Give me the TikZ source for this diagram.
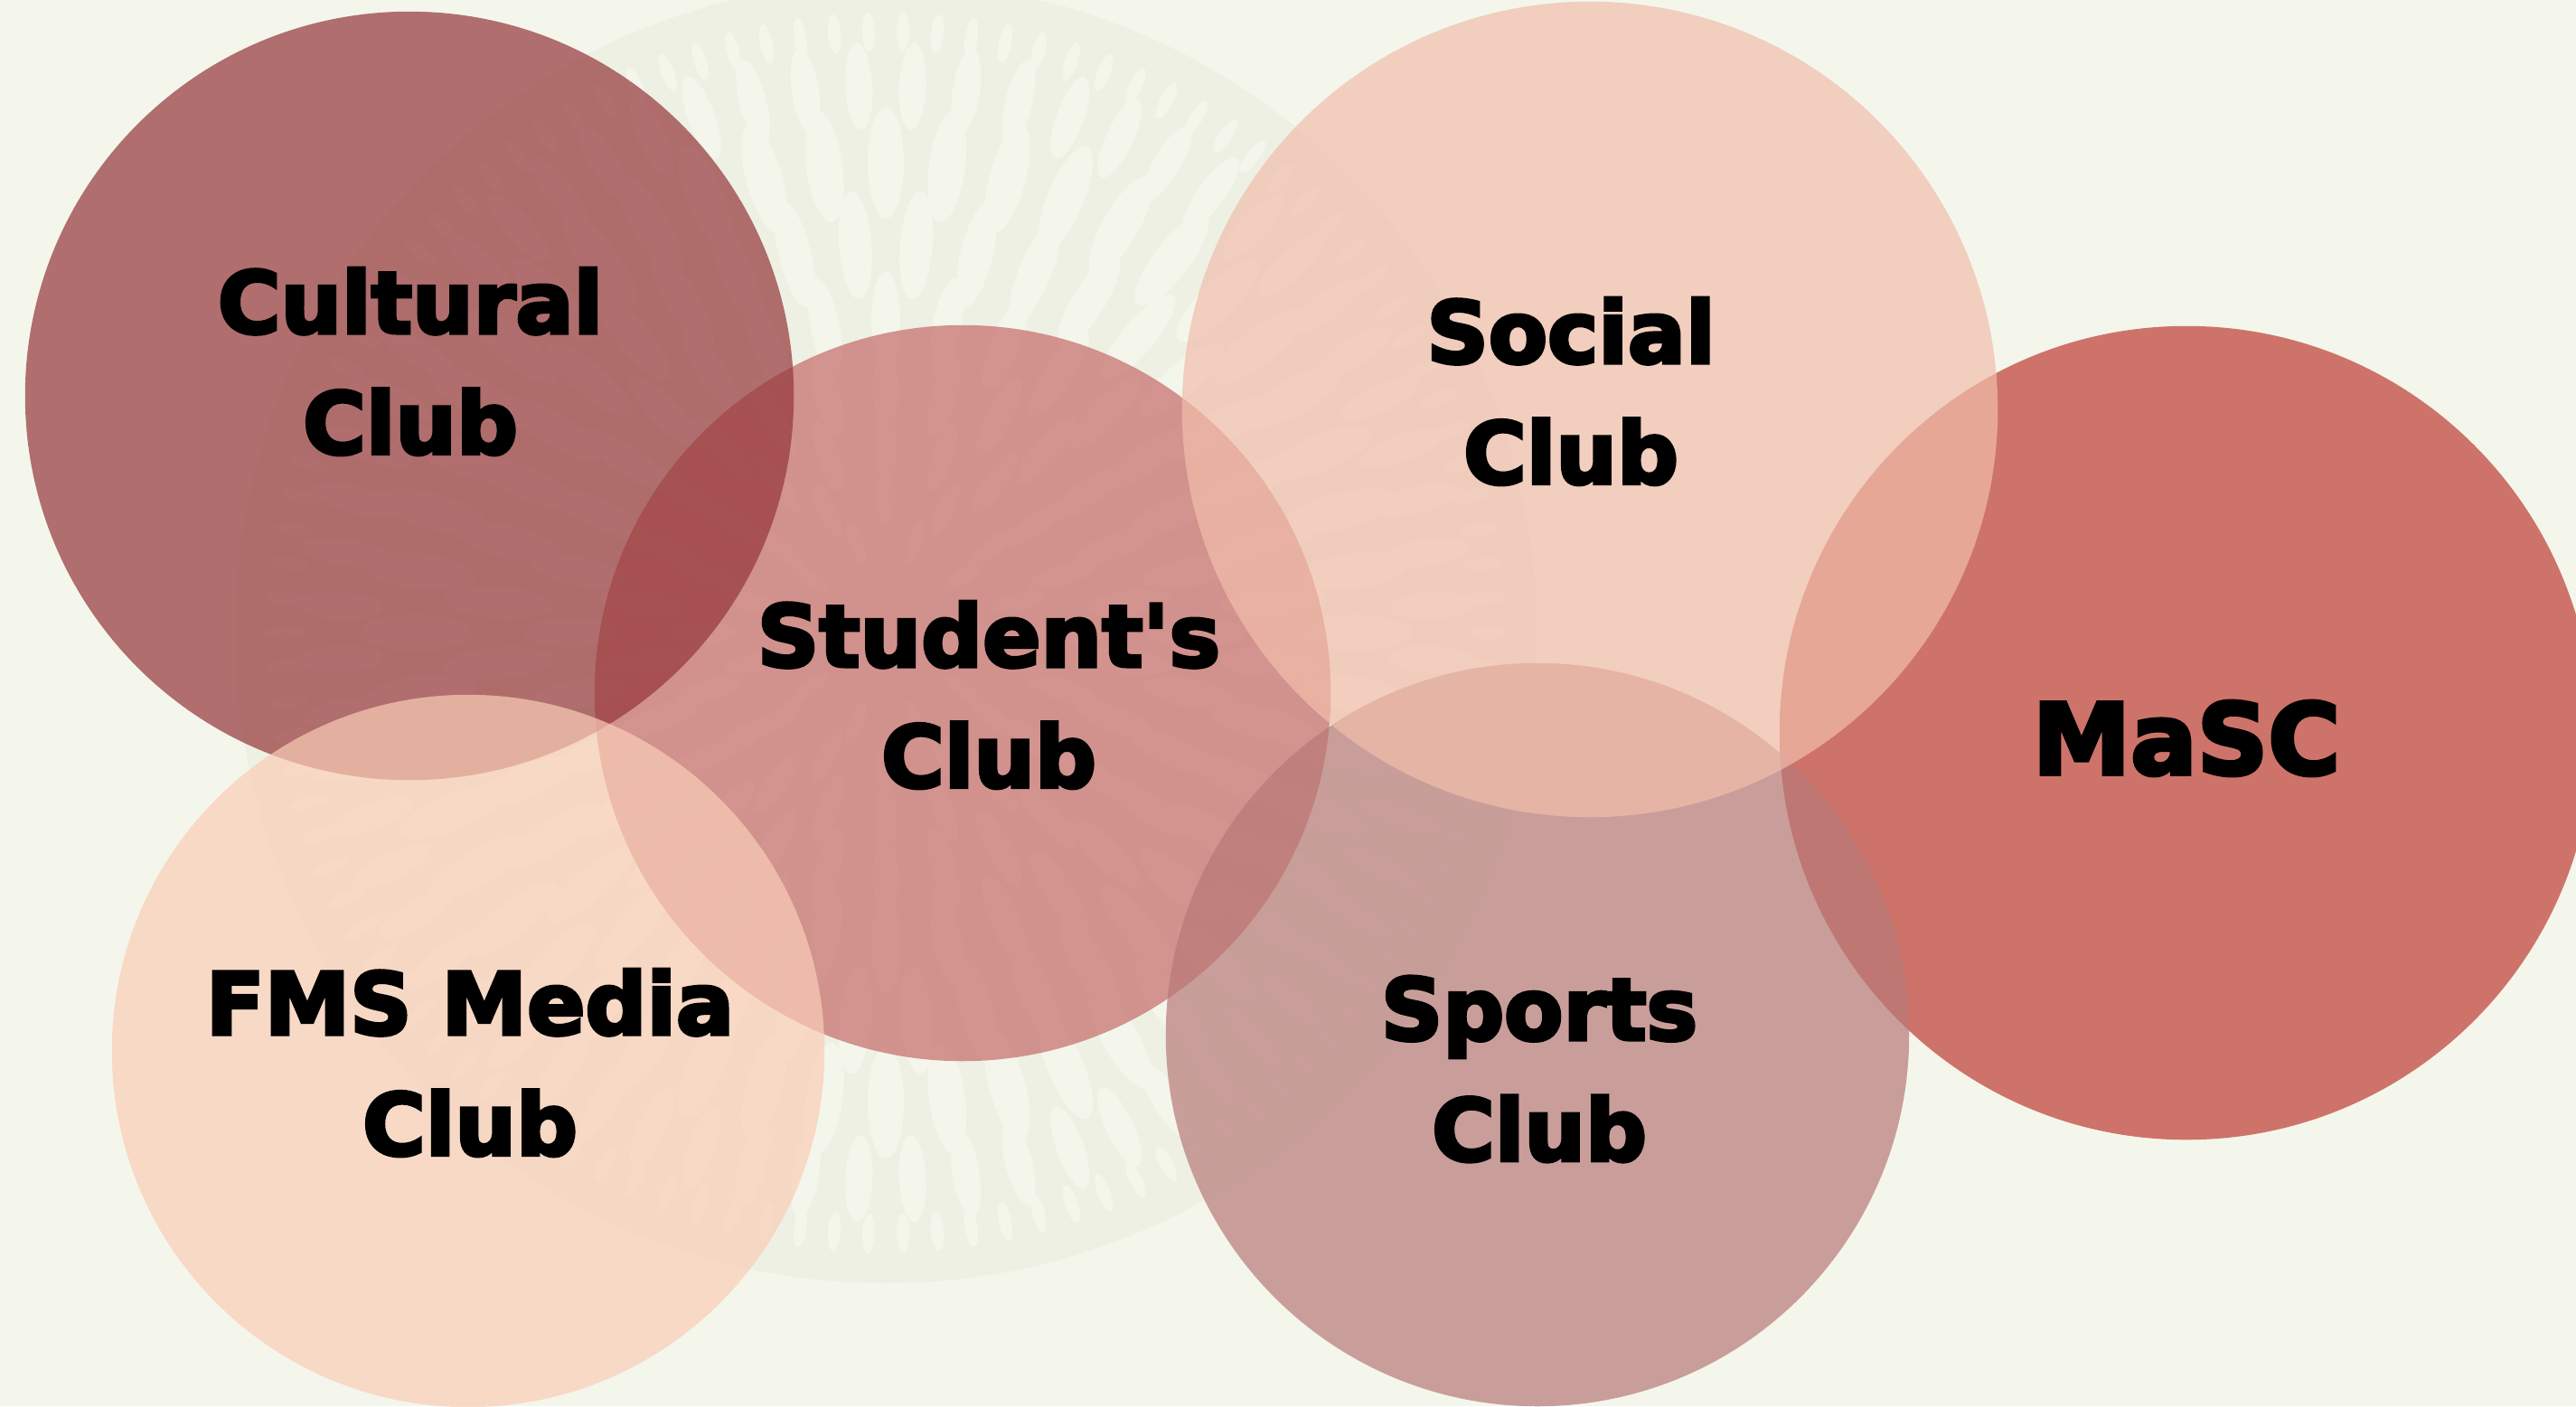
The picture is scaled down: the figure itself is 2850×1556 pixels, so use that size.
\documentclass[tikz,border=0pt]{standalone}
\usepackage{fontspec}
\setmainfont{DejaVu Sans}
\newfontfamily\lblfont{DejaVu Sans}[Ligatures=TeXOff, BoldFeatures={FakeBold=4}]
\definecolor{bgc}{RGB}{244,246,235}
\definecolor{mandc}{RGB}{237,240,227}
\definecolor{cultc}{RGB}{148,53,57}
\definecolor{studc}{RGB}{198,106,104}
\definecolor{fmsc}{RGB}{250,205,182}
\definecolor{socc}{RGB}{241,190,171}
\definecolor{sportc}{RGB}{184,122,120}
\definecolor{mascc}{RGB}{190,60,52}
\begin{document}
\begin{tikzpicture}[x=0.01cm,y=-0.01cm,
  club/.style={circle, inner sep=0pt, draw=none, fill opacity=0.7},
  lbl/.style={align=center, font=\lblfont\bfseries\fontsize{27}{38}\selectfont, text=black, inner sep=0pt}]
\useasboundingbox (0,0) rectangle (2850,1556);
\fill[bgc] (0,0) rectangle (2850,1556);
% faint background mandala
\begin{scope}
\clip (0,0) rectangle (2850,1556);
\fill[mandc] (980,700) circle[radius=720];
\foreach \rr/\nn/\ll/\ww/\off in {665/110/22/7/0, 605/64/48/15/0.5, 520/48/62/20/0, 430/40/60/18/0.5, 345/32/55/16/0, 270/26/48/14/0.5, 205/20/40/12/0, 150/14/32/10/0.5, 105/10/25/8/0}{
  \foreach \i in {1,...,\nn}{
    \pgfmathsetmacro\ang{(360/\nn)*(\i+\off)}
    \fill[bgc, shift={(980,700)}, rotate=\ang] (\rr,0) ellipse[x radius=\ll, y radius=\ww];
  }
}
\end{scope}
% club circles
\node[club, fill=studc, minimum size=8.14cm] (stud) at (1065,767) {};
\node[club, fill=cultc, minimum size=8.5cm] (cult) at (453,438) {};
\node[club, fill=fmsc, minimum size=7.88cm] (fms) at (518,1163) {};
\node[club, fill=mascc, minimum size=9.0cm] (masc) at (2419,811) {};
\node[club, fill=sportc, minimum size=8.22cm] (sport) at (1701,1145) {};
\node[club, fill=socc, minimum size=9.02cm] (soc) at (1759,453) {};
% labels
\node[lbl] (cultT) at (454,400) {Cultural\\Club};
\node[lbl] (studT) at (1094,769) {Student's\\Club};
\node[lbl] (socT) at (1738,433) {Social\\Club};
\node[lbl] (fmsT) at (520,1176) {FMS Media\\Club};
\node[lbl] (sportT) at (1703,1183) {Sports\\Club};
\node[lbl, font=\lblfont\bfseries\fontsize{31}{38}\selectfont] (mascT) at (2419,817) {MaSC};
\end{tikzpicture}
\end{document}
